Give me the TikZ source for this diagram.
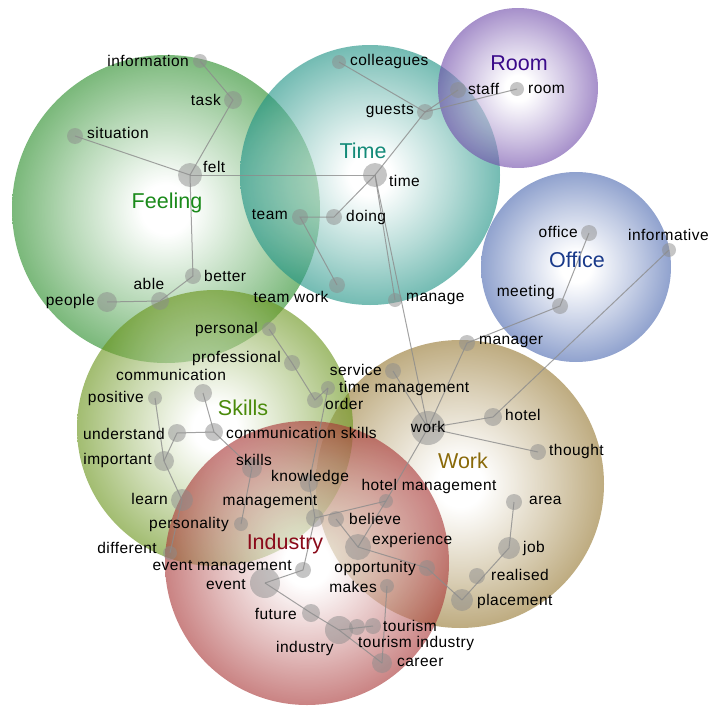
\documentclass[tikz,border=0pt]{standalone}
\usepackage{fontspec}
\setmainfont{Liberation Sans}
\newfontfamily\wordfont[LetterSpace=3]{Liberation Sans}

\definecolor{feelingC}{RGB}{41,141,41}
\definecolor{timeC}{RGB}{30,146,132}
\definecolor{roomC}{RGB}{112,76,170}
\definecolor{officeC}{RGB}{76,105,176}
\definecolor{workC}{RGB}{150,120,50}
\definecolor{skillsC}{RGB}{105,148,26}
\definecolor{industryC}{RGB}{169,55,55}

\definecolor{feelingT}{RGB}{26,138,26}
\definecolor{timeT}{RGB}{19,138,120}
\definecolor{roomT}{RGB}{58,10,138}
\definecolor{officeT}{RGB}{26,58,138}
\definecolor{workT}{RGB}{138,106,10}
\definecolor{skillsT}{RGB}{74,138,10}
\definecolor{industryT}{RGB}{138,10,26}

\colorlet{bubblecol}{gray}
\pgfdeclareradialshading[bubblecol]{bubble}{\pgfpoint{0bp}{0bp}}{color(0bp)=(white); color(4bp)=(white); color(16bp)=(bubblecol!55!white); color(25bp)=(bubblecol); color(50bp)=(bubblecol)}

\tikzset{
  bubble/.style={shading=bubble, /utils/exec={\colorlet{bubblecol}{#1}}, opacity=0.62},
  dot/.style={circle, fill=black!45, fill opacity=0.5, draw=none, inner sep=0pt, minimum size=#1},
  link/.style={draw=black!45, opacity=0.8, line width=1pt},
  word/.style={font=\wordfont\fontsize{15.5}{18}\selectfont, inner sep=0pt},
  theme/.style={font=\fontsize{21.5}{24}\selectfont, inner sep=0pt},
}

\begin{document}
\begin{tikzpicture}[x=1pt,y=-1pt]
\useasboundingbox (0,0) rectangle (713,707);

% theme bubbles
\shade[bubble=feelingC] (166,209) circle (154pt);
\shade[bubble=timeC] (370,175) circle (130pt);
\shade[bubble=roomC] (518,88) circle (80pt);
\shade[bubble=officeC] (576,267) circle (95pt);
\shade[bubble=workC] (460,484) circle (144pt);
\shade[bubble=skillsC] (215,428) circle (138pt);
\shade[bubble=industryC] (307,563) circle (142pt);

% concept dots
\node[dot=14pt] (information) at (200,61) {};
\node[dot=18pt] (task) at (233,100) {};
\node[dot=16pt] (situation) at (75,136) {};
\node[dot=24pt] (felt) at (190,175) {};
\node[dot=16pt] (better) at (193,276) {};
\node[dot=18pt] (able) at (160,301) {};
\node[dot=20pt] (people) at (107,302) {};

\node[dot=14pt] (colleagues) at (339,62) {};
\node[dot=16pt] (guests) at (425,112) {};
\node[dot=16pt] (staff) at (458,90) {};
\node[dot=14pt] (room) at (517,89) {};
\node[dot=24pt] (time) at (375,175) {};
\node[dot=16pt] (doing) at (334,217) {};
\node[dot=16pt] (team) at (300,217) {};
\node[dot=16pt] (teamwork) at (337,285) {};
\node[dot=14pt] (manage) at (395,300) {};

\node[dot=16pt] (office) at (589,233) {};
\node[dot=14pt] (informative) at (669,250) {};
\node[dot=16pt] (meeting) at (560,306) {};

\node[dot=16pt] (manager) at (467,343) {};
\node[dot=16pt] (service) at (393,371) {};
\node[dot=14pt] (timemgmt) at (328,388) {};
\node[dot=16pt] (order) at (315,400) {};
\node[dot=34pt] (work) at (428,428) {};
\node[dot=18pt] (hotel) at (493,417) {};
\node[dot=16pt] (thought) at (538,452) {};
\node[dot=14pt] (hotelmgmt) at (386,501) {};
\node[dot=16pt] (area) at (514,502) {};
\node[dot=22pt] (job) at (509,548) {};
\node[dot=16pt] (realised) at (477,576) {};
\node[dot=22pt] (placement) at (462,600) {};
\node[dot=16pt] (believe) at (336,519) {};
\node[dot=26pt] (experience) at (358,547) {};
\node[dot=16pt] (opportunity) at (427,568) {};
\node[dot=14pt] (makes) at (387,586) {};

\node[dot=14pt] (personal) at (269,329) {};
\node[dot=16pt] (professional) at (292,363) {};
\node[dot=18pt] (communication) at (203,393) {};
\node[dot=14pt] (positive) at (155,398) {};
\node[dot=18pt] (understand) at (177,433) {};
\node[dot=18pt] (commskills) at (214,432) {};
\node[dot=20pt] (important) at (164,461) {};
\node[dot=20pt] (skills) at (252,468) {};
\node[dot=18pt] (knowledge) at (309,483) {};
\node[dot=22pt] (learn) at (182,500) {};
\node[dot=18pt] (management) at (315,518) {};
\node[dot=14pt] (personality) at (241,524) {};
\node[dot=14pt] (different) at (170,553) {};

\node[dot=16pt] (eventmgmt) at (303,570) {};
\node[dot=30pt] (event) at (265,583) {};
\node[dot=18pt] (future) at (311,613) {};
\node[dot=28pt] (industry) at (339,630) {};
\node[dot=16pt] (tourismind) at (357,627) {};
\node[dot=16pt] (tourism) at (373,626) {};
\node[dot=20pt] (career) at (382,663) {};

% links
\draw[link] (information.center) -- (task.center) -- (felt.center);
\draw[link] (situation.center) -- (felt.center);
\draw[link] (felt.center) -- (time.center);
\draw[link] (felt.center) -- (better.center) -- (able.center) -- (people.center);
\draw[link] (colleagues.center) -- (guests.center) -- (staff.center);
\draw[link] (guests.center) -- (room.center);
\draw[link] (guests.center) -- (time.center);
\draw[link] (time.center) -- (doing.center) -- (team.center) -- (teamwork.center);
\draw[link] (time.center) -- (manage.center);
\draw[link] (time.center) -- (work.center);
\draw[link] (office.center) -- (meeting.center) -- (manager.center);
\draw[link] (informative.center) -- (hotel.center);
\draw[link] (work.center) -- (manager.center);
\draw[link] (work.center) -- (service.center);
\draw[link] (work.center) -- (hotel.center);
\draw[link] (work.center) -- (thought.center);
\draw[link] (work.center) -- (hotelmgmt.center) -- (experience.center);
\draw[link] (management.center) -- (hotelmgmt.center);
\draw[link] (believe.center) -- (experience.center);
\draw[link] (experience.center) -- (opportunity.center) -- (placement.center);
\draw[link] (placement.center) -- (job.center) -- (area.center);
\draw[link] (personal.center) -- (professional.center) -- (order.center) -- (timemgmt.center);
\draw[link] (timemgmt.center) -- (knowledge.center) -- (management.center);
\draw[link] (positive.center) -- (important.center) -- (learn.center) -- (different.center);
\draw[link] (understand.center) -- (important.center);
\draw[link] (understand.center) -- (commskills.center);
\draw[link] (communication.center) -- (commskills.center) -- (skills.center) -- (personality.center);
\draw[link] (management.center) -- (eventmgmt.center) -- (event.center);
\draw[link] (event.center) -- (future.center) -- (industry.center);
\draw[link] (industry.center) -- (tourism.center);
\draw[link] (industry.center) -- (career.center);
\draw[link] (makes.center) -- (career.center);

% theme names
\node[theme,text=feelingT] (feelinglbl) at (167,203) {Feeling};
\node[theme,text=timeT] (timelbl) at (363,151) {Time};
\node[theme,text=roomT] (roomlbl) at (519,63) {Room};
\node[theme,text=officeT] (officelbl) at (577,260) {Office};
\node[theme,text=workT] (worklbl) at (463,461) {Work};
\node[theme,text=skillsT] (skillslbl) at (243,408) {Skills};
\node[theme,text=industryT] (industrylbl) at (285,544) {Industry};

% concept names
\node[word,anchor=east] at (189,61) {information};
\node[word,anchor=east] at (221,100) {task};
\node[word,anchor=west] at (87,133) {situation};
\node[word,anchor=west] at (203,167) {felt};
\node[word,anchor=west] at (204,276) {better};
\node[word] at (149,284) {able};
\node[word,anchor=east] at (95,301) {people};

\node[word,anchor=west] at (350,61) {colleagues};
\node[word,anchor=east] at (414,111) {guests};
\node[word,anchor=west] at (468,89) {staff};
\node[word,anchor=west] at (528,89) {room};
\node[word,anchor=west] at (389,181) {time};
\node[word,anchor=west] at (346,217) {doing};
\node[word,anchor=east] at (288,215) {team};
\node[word] at (291,297) {team work};
\node[word,anchor=west] at (406,299) {manage};

\node[word,anchor=east] at (578,232) {office};
\node[word,anchor=west] at (628,235) {informative};
\node[word,anchor=east] at (555,292) {meeting};

\node[word,anchor=west] at (479,342) {manager};
\node[word,anchor=east] at (382,370) {service};
\node[word,anchor=west] at (339,388) {time management};
\node[word,anchor=west] at (325,404) {order};
\node[word] at (428,427) {work};
\node[word,anchor=west] at (505,415) {hotel};
\node[word,anchor=west] at (549,451) {thought};
\node[word] at (429,486) {hotel management};
\node[word,anchor=west] at (529,500) {area};
\node[word,anchor=west] at (523,548) {job};
\node[word,anchor=west] at (491,575) {realised};
\node[word,anchor=west] at (477,601) {placement};
\node[word,anchor=west] at (349,519) {believe};
\node[word,anchor=west] at (372,540) {experience};
\node[word,anchor=east] at (416,568) {opportunity};
\node[word,anchor=east] at (377,587) {makes};

\node[word,anchor=east] at (258,329) {personal};
\node[word,anchor=east] at (281,358) {professional};
\node[word] at (171,375) {communication};
\node[word,anchor=east] at (144,398) {positive};
\node[word,anchor=east] at (165,434) {understand};
\node[word,anchor=west] at (226,433) {communication skills};
\node[word,anchor=east] at (152,460) {important};
\node[word] at (254,460) {skills};
\node[word] at (310,477) {knowledge};
\node[word,anchor=east] at (168,499) {learn};
\node[word] at (270,502) {management};
\node[word,anchor=east] at (229,524) {personality};
\node[word,anchor=east] at (157,548) {different};

\node[word,anchor=east] at (292,567) {event management};
\node[word,anchor=east] at (246,585) {event};
\node[word,anchor=east] at (297,614) {future};
\node[word] at (305,648) {industry};
\node[word,anchor=west] at (383,626) {tourism};
\node[word,anchor=west] at (358,643) {tourism industry};
\node[word,anchor=west] at (397,662) {career};
\end{tikzpicture}
\end{document}
